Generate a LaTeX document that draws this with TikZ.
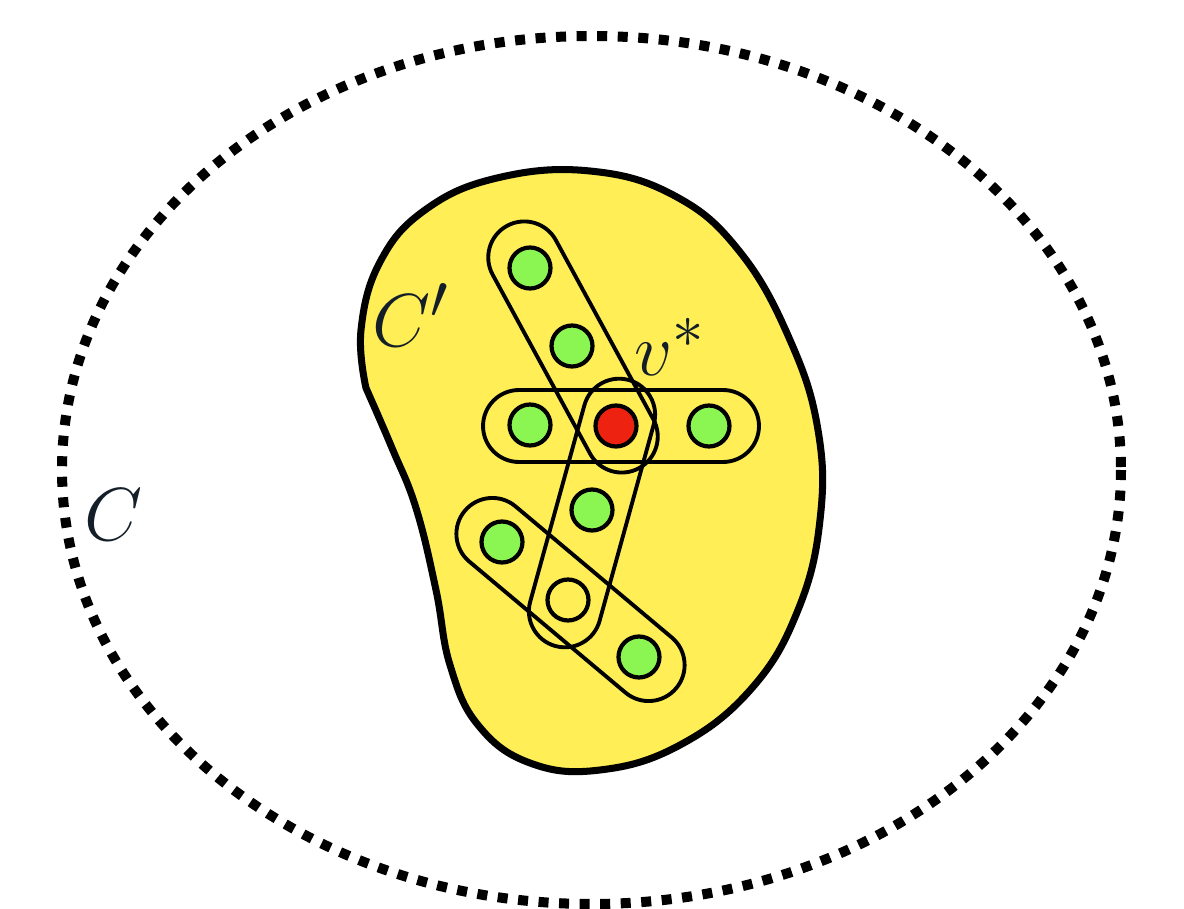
\documentclass[tikz,border=0pt]{standalone}
\usepackage{amsmath,amssymb}
\usepackage{graphicx}
\usepackage{xcolor}
\usepackage{tikz}
\usetikzlibrary{shapes.misc}
\definecolor{blobfill}{HTML}{FFEE55}
\definecolor{vgreen}{HTML}{8BF552}
\definecolor{vred}{HTML}{EE2210}
\definecolor{inktext}{HTML}{141E28}
\newcommand{\biglbl}[1]{\scalebox{1.72}{\Huge$#1$}}

\begin{document}
\begin{tikzpicture}[
  x=0.02cm, y=-0.02cm,
  vtx/.style={circle, draw=black, line width=2.4pt, fill=vgreen,
    minimum size=0.82cm, inner sep=0pt},
  hedge/.style={rounded rectangle, draw=black, line width=2.2pt,
    minimum width=5.52cm, minimum height=1.44cm, inner sep=0pt},
  lbl/.style={text=inktext, inner sep=0pt}
]
\useasboundingbox (0,0) rectangle (1184,909);

% outer component C
\draw[line width=5.7pt, dash pattern=on 5.7pt off 6pt]
  (591.5,470) ellipse [x radius=529.5, y radius=434];

% inner component C'
\draw[line width=4pt, fill=blobfill, line join=round]
  plot[smooth, tension=0.7] coordinates {(366,388) (361,330) (380,262) (425,210)
    (497,178) (590,171) (675,196) (740,252) (790,340) (818,430) (820,520)
    (798,610) (752,688) (680,745) (600,770) (530,763) (478,725) (450,665)
    (436,590) (416,508) (392,448) (366,388)} -- cycle;

% hyperedges
\node[hedge, rotate=-61.44] (e1) at (573,347) {};
\node[hedge]                (e2) at (621,426) {};
\node[hedge, rotate=74.58]  (e3) at (592,513) {};
\node[hedge, rotate=-40]    (e4) at (570.5,599.5) {};

% vertices
\node[vtx] (a1) at (530,268) {};
\node[vtx] (a2) at (572,346) {};
\node[vtx] (b1) at (530,425) {};
\node[vtx, fill=vred] (vs) at (616,426) {};
\node[vtx] (b3) at (709,426) {};
\node[vtx] (c2) at (592,510) {};
\node[vtx] (d1) at (502,542) {};
\node[vtx, fill=blobfill] (c3) at (568,600) {};
\node[vtx] (d3) at (639,657) {};

% labels
\node[lbl] (lC)  at (114,515) {\biglbl{C}};
\node[lbl] (lCp) at (411,315) {\biglbl{C'}};
\node[lbl] (lv)  at (670,347) {\biglbl{v^*}};
\end{tikzpicture}
\end{document}
